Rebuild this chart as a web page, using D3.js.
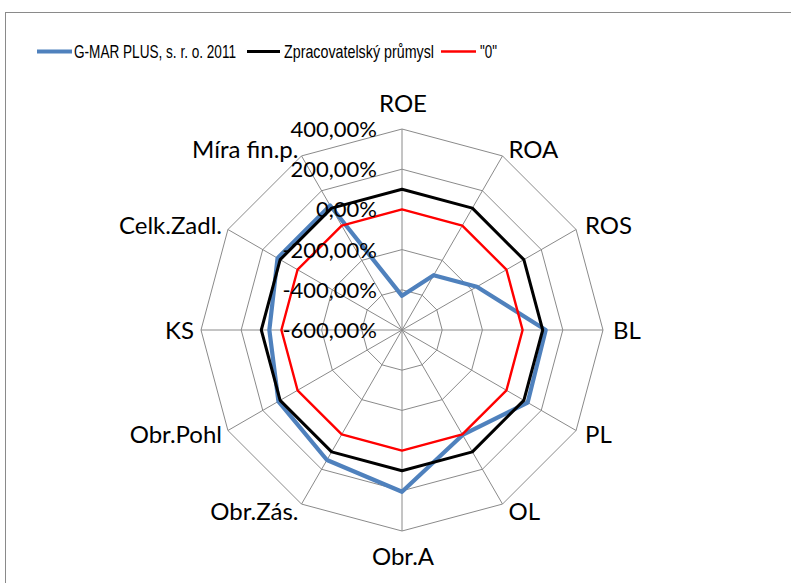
<!DOCTYPE html>
<html><head><meta charset="utf-8">
<script src="https://cdn.jsdelivr.net/npm/d3@7"></script>
<style>body{margin:0;background:#fff} svg{display:block}</style>
</head><body><svg id="c" width="791" height="583"></svg>
<script>
const axes = ["ROE","ROA","ROS","BL","PL","OL","Obr.A","Obr.Zás.","Obr.Pohl","KS","Celk.Zadl.","Míra fin.p."];
const seriesNames = ["G-MAR PLUS, s. r. o. 2011", "Zpracovatelský průmysl", "\"0\""];
const gmar = [-430, -285, -170, 115, 122, 3, 205, 147, 110, 60, 115, 115];
const industry = [100, 100, 100, 100, 100, 100, 100, 100, 100, 100, 100, 100];
const zero = [0, 0, 0, 0, 0, 0, 0, 0, 0, 0, 0, 0];
const tickValues = [-600, -400, -200, 0, 200, 400];
const tickLabels = ["-600,00%", "-400,00%", "-200,00%", "0,00%", "200,00%", "400,00%"];

const series = [
  {name: seriesNames[0], values: gmar, color: "#4F81BD", width: 4.2},
  {name: seriesNames[1], values: industry, color: "#000000", width: 3},
  {name: seriesNames[2], values: zero, color: "#FF0000", width: 2.4}
];

const svg = d3.select("#c");
const cx = 402, cy = 330, R = 201;
const FONT = "Lato, 'Open Sans', sans-serif";
const LFONT = "'Liberation Sans Narrow', 'Arial Narrow', sans-serif";
const grid = "#8a8a8a";

svg.append("rect").attr("x", 5.5).attr("y", 12.5).attr("width", 900).attr("height", 700)
  .attr("fill", "none").attr("stroke", grid).attr("stroke-width", 1);

const r = d3.scaleLinear().domain([-600, 400]).range([0, R]);
const angle = i => i * 2 * Math.PI / axes.length;
const px = (i, v) => cx + r(v) * Math.sin(angle(i));
const py = (i, v) => cy - r(v) * Math.cos(angle(i));

const g = svg.append("g");
// rings
tickValues.slice(1).forEach(t => {
  g.append("polygon")
    .attr("points", axes.map((a, i) => [px(i, t), py(i, t)].join(",")).join(" "))
    .attr("fill", "none").attr("stroke", grid).attr("stroke-width", 1);
});
// spokes
axes.forEach((a, i) => {
  g.append("line").attr("x1", cx).attr("y1", cy)
    .attr("x2", px(i, 400)).attr("y2", py(i, 400))
    .attr("stroke", grid).attr("stroke-width", 1);
});

// series
const line = d3.line().x(d => d[0]).y(d => d[1]).curve(d3.curveLinearClosed);
series.forEach(s => {
  g.append("path")
    .attr("d", line(s.values.map((v, i) => [px(i, v), py(i, v)])))
    .attr("fill", "none").attr("stroke", s.color).attr("stroke-width", s.width)
    .attr("stroke-linejoin", "round");
});

// axis labels
axes.forEach((a, i) => {
  const th = angle(i);
  const s = Math.sin(th), c = Math.cos(th);
  const rr = R + 8;
  const x = cx + rr * s + (s > 0.1 ? 2 : 1);
  let y = cy - rr * c;
  if (c > 0.99) y -= 18;
  if (c < -0.99) y += 17;
  const anchor = s > 0.1 ? "start" : (s < -0.1 ? "end" : "middle");
  svg.append("text").attr("x", x).attr("y", y).attr("dy", "0.36em")
    .attr("text-anchor", anchor).attr("font-family", FONT).attr("font-size", 24)
    .attr("fill", "#000").text(a);
});

// tick labels
tickValues.forEach((t, k) => {
  svg.append("text").attr("x", 377).attr("y", cy - r(t)).attr("dy", "0.36em")
    .attr("text-anchor", "end").attr("font-family", FONT).attr("font-size", 22)
    .attr("fill", "#000").text(tickLabels[k]);
});

// legend
const legendPos = [{x1: 37, x2: 72, tx: 74, tw: 162}, {x1: 247, x2: 280, tx: 284, tw: 150}, {x1: 441, x2: 476, tx: 480, tw: 17}];
series.forEach((s, k) => {
  const L = legendPos[k];
  svg.append("line").attr("x1", L.x1).attr("x2", L.x2).attr("y1", 51.5).attr("y2", 51.5)
    .attr("stroke", s.color).attr("stroke-width", s.width);
  svg.append("text").attr("x", L.tx).attr("y", 58).attr("font-family", LFONT).attr("font-size", 18.5)
    .attr("textLength", L.tw).attr("lengthAdjust", "spacingAndGlyphs")
    .attr("fill", "#000").text(s.name);
});
</script></body></html>
